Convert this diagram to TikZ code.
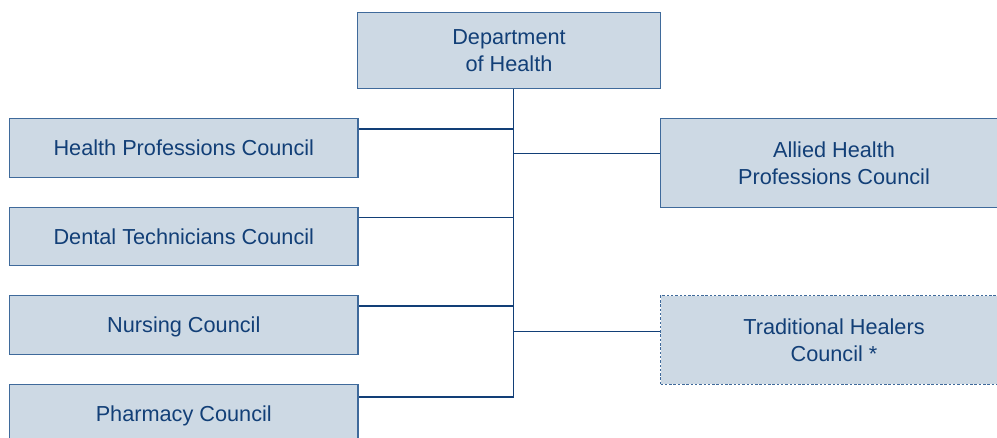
\documentclass[tikz,border=0pt]{standalone}
\usepackage{fontspec}
\setmainfont{Liberation Sans}
\usepackage{tikz}

\definecolor{boxfill}{HTML}{CDD9E4}
\definecolor{boxline}{HTML}{3F6A9B}
\definecolor{txtblue}{HTML}{123F77}

\tikzset{
	council/.style={draw=boxline, line width=1.3pt, fill=boxfill, text=txtblue,
		align=center, inner sep=0pt, text depth=0pt, font=\fontsize{21.7}{26.6}\selectfont},
	link/.style={draw=txtblue, line width=1.2pt}
}

\begin{document}
\begin{tikzpicture}[x=1pt, y=-1pt]
	\useasboundingbox (0,0) rectangle (997,437);
	\clip (0,0) rectangle (997,437);
	
	\node[council, minimum width=303pt, minimum height=76pt] (dept) at (509,50.7) {Department\\of Health};
	
	\node[council, minimum width=348.5pt, minimum height=58.6pt] (hpc) at (183.8,148) {Health Professions Council};
	\node[council, minimum width=348.5pt, minimum height=58.6pt] (dtc) at (183.8,236.5) {Dental Technicians Council};
	\node[council, minimum width=348.5pt, minimum height=58.6pt] (nc) at (183.8,325) {Nursing Council};
	\node[council, minimum width=348.5pt, minimum height=58.6pt] (pc) at (183.8,413.8) {Pharmacy Council};
	
	\node[council, minimum width=347pt, minimum height=89pt] (ahpc) at (834,163.2) {Allied Health\\Professions Council};
	\node[council, dashed, dash pattern=on 2.5pt off 1.8pt, minimum width=347pt, minimum height=88.6pt] (thc) at (834,340) {Traditional Healers\\Council *};
	
	% trunk
	\coordinate (trunkend) at (513.7,397);
	\draw[link] (trunkend |- dept.south) -- (trunkend);
	
	% branches
	\coordinate (jhpc) at (513.7,129);
	\coordinate (jdtc) at (513.7,217.7);
	\coordinate (jnc) at (513.7,306);
	\coordinate (jahpc) at (513.7,153.3);
	\coordinate (jthc) at (513.7,331.7);
	\draw[link] (jhpc) -- (jhpc -| hpc.east);
	\draw[link] (jdtc) -- (jdtc -| dtc.east);
	\draw[link] (jnc) -- (jnc -| nc.east);
	\draw[link] (trunkend) -- (trunkend -| pc.east);
	\draw[link] (jahpc) -- (jahpc -| ahpc.west);
	\draw[link] (jthc) -- (jthc -| thc.west);
	
\end{tikzpicture}
\end{document}
